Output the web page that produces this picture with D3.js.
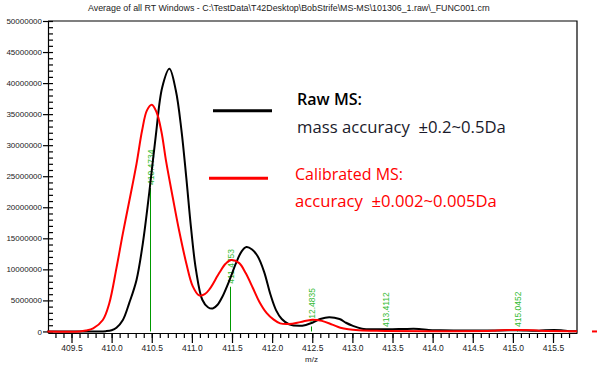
<!DOCTYPE html>
<html><head><meta charset="utf-8">
<script src="https://cdn.jsdelivr.net/npm/d3@7/dist/d3.min.js"></script>
<style>body{margin:0;background:#fff}svg{display:block}text{white-space:pre}</style>
</head><body>
<script>
// ---- data (intensity in millions of counts) ----
const rawMz = [409.20,409.80,409.93,410.00,410.06,410.14,410.22,410.31,410.39,410.47,410.55,410.63,410.72,410.80,410.87,410.93,410.99,411.05,411.13,411.20,411.26,411.32,411.38,411.47,411.55,411.62,411.68,411.75,411.82,411.90,411.98,412.05,412.12,412.21,412.34,412.42,412.50,412.60,412.71,412.84,412.92,413.00,413.12,413.29,413.50,413.65,413.83,413.95,414.10,414.40,414.60,414.85,415.05,415.30,415.40,415.60,415.70,415.80];
const rawIntensity = [0,0,0.05,0.2,0.6,1.85,4.6,8.3,14.3,22.5,31.5,39.3,42.3,38.8,32.4,24.8,16.6,10.0,5.1,3.9,3.7,4.3,5.6,8.3,11.0,12.9,13.6,13.2,12.1,9.6,5.9,3.4,2.0,1.16,0.9,1.05,1.4,2.0,2.3,2.0,1.4,0.93,0.45,0.35,0.35,0.4,0.4,0.25,0.2,0.15,0.15,0.15,0.2,0.1,0.2,0.2,0.05,0.05];
const calMz = [409.20,409.60,409.68,409.77,409.89,409.97,410.06,410.14,410.22,410.31,410.38,410.44,410.50,410.56,410.62,410.68,410.76,410.84,410.93,411.01,411.09,411.16,411.22,411.34,411.42,411.49,411.59,411.67,411.76,411.84,411.93,412.02,412.10,412.21,412.35,412.50,412.62,412.75,412.85,412.95,413.08,413.30,414.00,414.75,414.85,415.25,415.35,415.80];
const calIntensity = [0,0,0.15,0.5,1.85,4.5,10.2,15.8,21.0,27.0,32.4,35.6,36.5,35.3,32.2,27.3,21.7,16.3,11.0,7.3,5.8,6.0,6.8,9.4,10.9,11.5,11.0,9.4,7.0,4.8,3.0,1.9,1.3,1.2,1.5,1.9,1.7,1.1,0.6,0.35,0.2,0.1,0.05,0.1,0.2,0.2,0.1,0.05];
const stickMz = [410.4734,411.4753,412.4835,413.4112,415.0452];
const stickIntensity = [23.1,7.2,0.8,0.1,0.1];
const stickLabels = ["410.4734","411.4753","412.4835","413.4112","415.0452"];
const yMajorTicks = [0,5,10,15,20,25,30,35,40,45,50];
const yTickLabels = ["0","5000000","10000000","15000000","20000000","25000000","30000000","35000000","40000000","45000000","50000000"];
const xMajorTicks = [409.5,410.0,410.5,411.0,411.5,412.0,412.5,413.0,413.5,414.0,414.5,415.0,415.5];
const xTickLabels = ["409.5","410.0","410.5","411.0","411.5","412.0","412.5","413.0","413.5","414.0","414.5","415.0","415.5"];
const titleText = "Average of all RT Windows - C:\\TestData\\T42Desktop\\BobStrife\\MS-MS\\101306_1.raw\\_FUNC001.crn";
const legendTitles = ["Raw MS:","Calibrated MS:"];
const legendSubs = ["mass accuracy  \u00b10.2~0.5Da","accuracy  \u00b10.002~0.005Da"];
const seriesColors = ["#000000","#ff0000"];

// ---- layout ----
const W=597,H=368, L=48, R=577, T=21, B=333;
const svg = d3.select("body").append("svg").attr("width",W).attr("height",H);
const x = d3.scaleLinear().domain([409.207,415.799]).range([L,R]);
const y = d3.scaleLinear().domain([-0.25,50]).range([B,T]);
const tickFont = "'Liberation Sans', Arial, sans-serif";

function fit(sel, width){
  const w = sel.node().getComputedTextLength();
  const fs = parseFloat(sel.attr("font-size"));
  sel.attr("font-size", fs*width/w);
}

// title
svg.append("text").attr("x",88).attr("y",10.5).attr("font-family",tickFont)
  .attr("font-size",8).attr("fill","#222").text(titleText).call(fit,402);

// frame
svg.append("path").attr("d",`M${L},${T}H${R}V${B}`).attr("fill","none").attr("stroke","#000").attr("stroke-width",1.2);

// y axis
const yAx = svg.append("g").attr("transform",`translate(${L},0)`)
  .call(d3.axisLeft(y).tickValues(yMajorTicks).tickSize(5).tickSizeOuter(0).tickPadding(1)
    .tickFormat((d,i)=>yTickLabels[i]));
svg.append("g").attr("transform",`translate(${L},0)`)
  .call(d3.axisRight(y).tickValues(d3.range(0,50.5,1)).tickSize(5).tickSizeOuter(0).tickFormat(""))
  .select(".domain").remove();
// x axis
const xAx = svg.append("g").attr("transform",`translate(0,${B})`)
  .call(d3.axisBottom(x).tickValues(xMajorTicks).tickSize(10).tickSizeOuter(0).tickPadding(2)
    .tickFormat((d,i)=>xTickLabels[i]));
svg.append("g").attr("transform",`translate(0,${B})`)
  .call(d3.axisBottom(x).tickValues(d3.range(409.3,415.75,0.1)).tickSize(5).tickSizeOuter(0).tickFormat(""))
  .select(".domain").remove();
svg.selectAll(".tick line, .domain").attr("stroke","#000").attr("stroke-width",1.2);
svg.selectAll(".tick text").attr("font-family",tickFont).attr("fill","#222");
yAx.selectAll("text").attr("font-size",8);
xAx.selectAll("text").attr("font-size",8.5);
svg.append("text").attr("x",311.5).attr("y",362).attr("text-anchor","middle")
  .attr("font-family",tickFont).attr("font-size",8).attr("fill","#222").text("m/z");

// centroid sticks
const sticks = svg.append("g");
stickMz.forEach((m,i)=>{
  const sx = Math.round(x(m))+0.5, sy = y(stickIntensity[i]);
  sticks.append("line").attr("x1",sx).attr("x2",sx).attr("y1",y(0)).attr("y2",sy)
    .attr("stroke","#009900").attr("stroke-width",1);
  const ly = Math.min(sy-3, 327);
  sticks.append("text").attr("transform",`translate(${sx+3},${ly}) rotate(-90)`)
    .attr("font-family",tickFont).attr("font-size",8.5).attr("fill","#33bb33")
    .text(stickLabels[i]);
});

// curves
const line = d3.line().x(d=>x(d[0])).y(d=>y(d[1])).curve(d3.curveCatmullRom.alpha(0.5));
[[rawMz,rawIntensity],[calMz,calIntensity]].forEach(([mz,v],k)=>{
  svg.append("path").datum(mz.map((m,i)=>[m,v[i]])).attr("d",line)
    .attr("fill","none").attr("stroke",seriesColors[k]).attr("stroke-width",2)
    .attr("stroke-linejoin","round");
});
// small red mark at far right (outside plot)
svg.append("line").attr("x1",592).attr("x2",597).attr("y1",y(0)).attr("y2",y(0))
  .attr("stroke","#ff0000").attr("stroke-width",2);

// legend
const legFont = "'Open Sans','Noto Sans',sans-serif";
const leg = [
  {lx1:213,lx2:272,ly:110.7,tx:297,ty1:105,tw1:65,ty2:133,tw2:209},
  {lx1:209,lx2:268,ly:178.3,tx:295,ty1:179.5,tw1:108,ty2:206.5,tw2:202}
];
leg.forEach((g,k)=>{
  svg.append("line").attr("x1",g.lx1).attr("x2",g.lx2).attr("y1",g.ly).attr("y2",g.ly)
    .attr("stroke",seriesColors[k]).attr("stroke-width",3);
  svg.append("text").attr("x",g.tx).attr("y",g.ty1).attr("font-family",legFont)
    .attr("font-size",16).attr("font-weight",k===0?600:400)
    .attr("fill",k===0?"#000":"#ff0000").text(legendTitles[k]).call(fit,g.tw1);
  svg.append("text").attr("x",g.tx).attr("y",g.ty2).attr("font-family",legFont)
    .attr("font-size",15).attr("fill",k===0?"#1a1a2a":"#ff0000").text(legendSubs[k]).call(fit,g.tw2);
});
</script>
</body></html>
